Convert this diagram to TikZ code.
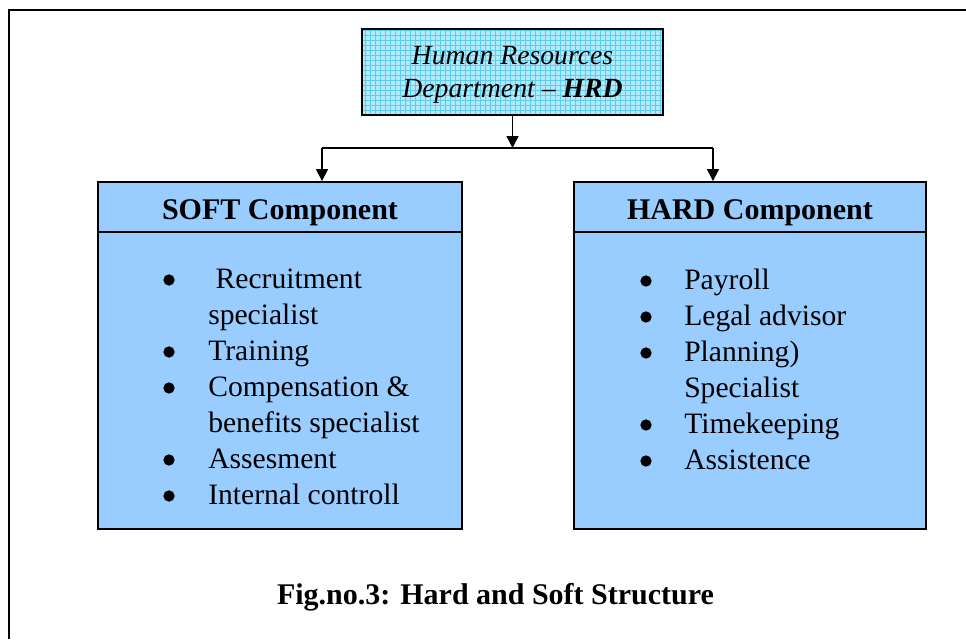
\documentclass[tikz,border=0pt]{standalone}
\usepackage{fontspec}
\setmainfont{Liberation Serif}
\usetikzlibrary{arrows.meta}
\definecolor{boxblue}{RGB}{153,204,255}
\definecolor{hrdfill}{RGB}{178,234,250}
\definecolor{hrdgrid}{RGB}{90,205,240}
\tikzset{
  conn/.style={line width=1.1pt},
  arr/.style={conn,-{Triangle[length=9pt,width=9pt]}},
  compbox/.style={draw,line width=1.4pt,fill=boxblue,inner sep=0pt},
  itemtxt/.style={anchor=base west,inner sep=0pt,font=\fontsize{22.2pt}{26pt}\selectfont},
  bul/.style={circle,fill=black,inner sep=0pt,minimum size=8.5pt},
  titletxt/.style={anchor=base,inner sep=0pt,font=\fontsize{22.5pt}{26pt}\selectfont\bfseries},
}
\begin{document}
\begin{tikzpicture}[x=0.75pt,y=-0.75pt]
\useasboundingbox (0,0) rectangle (966,639);
% outer frame
\draw[line width=1.5pt] (9,639) -- (9,10) -- (966,10);

% HRD box
\node[minimum width=225.75pt,minimum height=64.5pt,inner sep=0pt,fill=hrdfill] (hrd) at (512.5,72) {};
\begin{scope}
\clip (362,29) rectangle (663,115);
\draw[hrdgrid,line width=0.6pt,step=3.75pt] (360,27) grid (665,117);
\end{scope}
\draw[line width=1.4pt] (hrd.north west) rectangle (hrd.south east);
\node[anchor=base,inner sep=0pt,font=\fontsize{20.8pt}{24pt}\selectfont\itshape] (hrd1) at (512.5,64) {Human Resources};
\node[anchor=base,inner sep=0pt,font=\fontsize{20.8pt}{24pt}\selectfont\itshape] (hrd2) at (512.5,97) {Department -- \textbf{HRD}};

% component boxes
\node[compbox,minimum width=273pt,minimum height=260.25pt] (soft) at (280,355.5) {};
\node[compbox,minimum width=264pt,minimum height=260.25pt] (hard) at (750,355.5) {};
\coordinate (softdivL) at (98,232);
\coordinate (softdivR) at (462,232);
\coordinate (harddivL) at (574,232);
\coordinate (harddivR) at (926,232);
\draw[line width=1.4pt] (softdivL) -- (softdivR);
\draw[line width=1.4pt] (harddivL) -- (harddivR);

\node[titletxt] (softtitle) at (280,219) {SOFT Component};
\node[titletxt] (hardtitle) at (750,219) {HARD Component};

% connectors
\coordinate (junc) at (512.5,148);
\coordinate (jl) at (322,148);
\coordinate (jr) at (713,148);
\draw[arr] (hrd.south) -- (junc);
\draw[conn] (jl) -- (jr);
\draw[arr] (jl) -- (jl |- soft.north);
\draw[arr] (jr) -- (jr |- hard.north);

% SOFT items
\node[bul] (sb1) at (169,280) {};
\node[itemtxt] (st1) at (208,288) {\ Recruitment};
\node[itemtxt] (st1b) at (208,324) {specialist};
\node[bul] (sb2) at (169,352) {};
\node[itemtxt] (st2) at (208,360) {Training};
\node[bul] (sb3) at (169,388) {};
\node[itemtxt] (st3) at (208,396) {Compensation \&};
\node[itemtxt] (st3b) at (208,432) {benefits specialist};
\node[bul] (sb4) at (169,460) {};
\node[itemtxt] (st4) at (208,468) {Assesment};
\node[bul] (sb5) at (169,496) {};
\node[itemtxt] (st5) at (208,504) {Internal controll};

% HARD items
\node[bul] (hb1) at (646,281) {};
\node[itemtxt] (ht1) at (684,289) {Payroll};
\node[bul] (hb2) at (646,317) {};
\node[itemtxt] (ht2) at (684,325) {Legal advisor};
\node[bul] (hb3) at (646,353) {};
\node[itemtxt] (ht3) at (684,361) {Planning)};
\node[itemtxt] (ht3b) at (684,397) {Specialist};
\node[bul] (hb4) at (646,425) {};
\node[itemtxt] (ht4) at (684,433) {Timekeeping};
\node[bul] (hb5) at (646,461) {};
\node[itemtxt] (ht5) at (684,469) {Assistence};

% caption
\node[titletxt] (caption) at (495.5,604) {Fig.no.3: Hard and Soft Structure};
\end{tikzpicture}
\end{document}
